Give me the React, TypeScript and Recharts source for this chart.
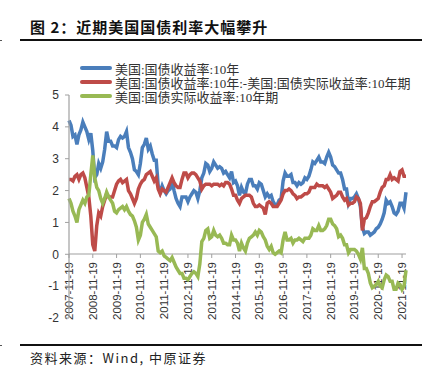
import React from 'react';
import { LineChart, Line, XAxis, YAxis, Legend } from 'recharts';

// monthly sample dates, 19th of each month, 2007-11 .. 2022-01
const dates: string[] = [];
for (let y = 2007; y <= 2022; y++) {
  for (let m = 1; m <= 12; m++) {
    if ((y === 2007 && m < 11) || (y === 2022 && m > 1)) continue;
    dates.push(`${y}-${String(m).padStart(2, '0')}-19`);
  }
}

const xTicks = [
  '2007-11-19', '2008-11-19', '2009-11-19', '2010-11-19', '2011-11-19',
  '2012-11-19', '2013-11-19', '2014-11-19', '2015-11-19', '2016-11-19',
  '2017-11-19', '2018-11-19', '2019-11-19', '2020-11-19', '2021-11-19',
];
const yTicks = [-2, -1, 0, 1, 2, 3, 4, 5];

const NAME_NOMINAL = '美国:国债收益率:10年';
const NAME_SPREAD = '美国:国债收益率:10年:-美国:国债实际收益率:10年期';
const NAME_REAL = '美国:国债实际收益率:10年期';
const legendOrder = [NAME_NOMINAL, NAME_SPREAD, NAME_REAL];

const nominal = [
  4.2, 4.05,
  3.7, 3.75, 3.45, 3.75, 3.9, 4.15, 4.0, 3.85, 3.6, 3.8, 3.25, 2.4,
  2.5, 2.85, 2.7, 2.9, 3.3, 3.85, 3.55, 3.55, 3.4, 3.4, 3.35, 3.6,
  3.7, 3.65, 3.7, 3.85, 3.35, 3.2, 3.0, 2.65, 2.6, 2.5, 2.85, 3.35,
  3.45, 3.65, 3.3, 3.4, 3.15, 2.95, 2.95, 2.15, 1.95, 2.15, 2.0, 1.9,
  2.0, 2.05, 2.3, 2.0, 1.75, 1.6, 1.5, 1.8, 1.8, 1.8, 1.65, 1.8,
  1.9, 2.0, 1.95, 1.75, 2.0, 2.4, 2.55, 2.85, 2.8, 2.6, 2.7, 2.9,
  2.8, 2.7, 2.75, 2.7, 2.55, 2.6, 2.5, 2.4, 2.6, 2.25, 2.3, 2.15,
  1.85, 2.1, 1.95, 1.9, 2.2, 2.35, 2.35, 2.15, 2.15, 2.05, 2.25, 2.2,
  2.0, 1.8, 1.9, 1.8, 1.85, 1.65, 1.55, 1.55, 1.7, 1.75, 2.3, 2.55,
  2.45, 2.45, 2.5, 2.25, 2.25, 2.15, 2.25, 2.2, 2.25, 2.4, 2.35, 2.45,
  2.65, 2.9, 2.85, 2.95, 3.05, 2.9, 2.9, 2.85, 3.05, 3.2, 3.05, 2.8,
  2.75, 2.65, 2.55, 2.55, 2.35, 2.05, 2.05, 1.6, 1.75, 1.75, 1.8, 1.9,
  1.75, 1.5, 0.85, 0.65, 0.7, 0.7, 0.6, 0.65, 0.7, 0.8, 0.85, 0.95,
  1.1, 1.3, 1.7, 1.6, 1.65, 1.5, 1.3, 1.25, 1.35, 1.6, 1.6, 1.45,
  1.95,
];

const spread = [
  2.35, 2.35,
  2.3, 2.45, 2.5, 2.35, 2.5, 2.55, 2.4, 2.1, 1.8, 1.2, 0.3, 0.1,
  0.9, 1.3, 1.2, 1.5, 1.7, 1.9, 1.8, 1.8, 1.8, 2.0, 2.2, 2.3,
  2.35, 2.25, 2.3, 2.35, 2.0, 1.9, 1.75, 1.6, 1.75, 2.05, 2.2, 2.3,
  2.35, 2.5, 2.55, 2.6, 2.45, 2.3, 2.4, 2.05, 1.9, 2.05, 2.0, 1.95,
  2.1, 2.25, 2.4, 2.25, 2.15, 2.1, 2.1, 2.35, 2.55, 2.55, 2.4, 2.5,
  2.55, 2.55, 2.5, 2.4, 2.3, 2.05, 2.15, 2.2, 2.2, 2.2, 2.15, 2.2,
  2.2, 2.2, 2.15, 2.2, 2.15, 2.25, 2.25, 2.2, 2.05, 1.85, 1.85, 1.7,
  1.6, 1.75, 1.8, 1.85, 1.85, 1.85, 1.8, 1.6, 1.5, 1.5, 1.55, 1.5,
  1.45, 1.25, 1.6, 1.65, 1.6, 1.5, 1.5, 1.5, 1.6, 1.7, 1.9, 2.0,
  2.0, 2.05, 2.0, 1.9, 1.85, 1.75, 1.8, 1.8, 1.85, 1.9, 1.9, 1.95,
  2.1, 2.1, 2.1, 2.2, 2.15, 2.15, 2.15, 2.1, 2.15, 2.05, 1.95, 1.75,
  1.8, 1.85, 1.95, 1.95, 1.8, 1.7, 1.75, 1.55, 1.6, 1.6, 1.65, 1.8,
  1.75, 1.6, 0.75, 1.1, 1.15, 1.3, 1.5, 1.65, 1.65, 1.7, 1.75, 1.95,
  2.1, 2.15, 2.35, 2.35, 2.5, 2.35, 2.4, 2.35, 2.3, 2.6, 2.65, 2.45,
  2.45,
];

const real = [
  1.75, 1.6,
  1.35, 1.2, 1.0, 1.4, 1.55, 1.7, 1.6, 1.8, 1.85, 2.5, 3.1, 2.4,
  2.1, 2.0, 1.75, 1.6, 1.75, 1.95, 1.8, 1.7, 1.6, 1.35, 1.3, 1.4,
  1.45, 1.5, 1.4, 1.5, 1.35, 1.25, 1.2, 1.05, 0.85, 0.45, 0.6, 1.0,
  1.1, 1.25, 0.95, 0.85, 0.75, 0.65, 0.55, 0.1, 0.05, 0.1, -0.05, -0.1,
  -0.15, -0.2, -0.1, -0.25, -0.4, -0.5, -0.6, -0.6, -0.75, -0.75, -0.8, -0.7,
  -0.6, -0.55, -0.6, -0.7, -0.3, 0.4, 0.5, 0.75, 0.8, 0.5, 0.55, 0.75,
  0.6, 0.55, 0.6, 0.5, 0.35, 0.35, 0.3, 0.3, 0.6, 0.45, 0.45, 0.35,
  0.1, 0.35, 0.2, 0.1, 0.35, 0.5, 0.55, 0.6, 0.7, 0.6, 0.75, 0.7,
  0.55, 0.45, 0.25, 0.15, 0.25, 0.05, 0.0, 0.05, 0.1, 0.05, 0.45, 0.7,
  0.45, 0.45, 0.5, 0.35, 0.45, 0.45, 0.5, 0.45, 0.4, 0.5, 0.5, 0.5,
  0.6, 0.8, 0.75, 0.75, 0.9, 0.75, 0.75, 0.8, 0.9, 1.1, 1.1, 0.95,
  0.9, 0.8, 0.55, 0.6, 0.5, 0.3, 0.3, 0.05, 0.15, 0.15, 0.15, 0.1,
  0.0, -0.15, 0.2, -0.45, -0.45, -0.6, -0.9, -1.05, -1.0, -0.95, -0.85, -1.0,
  -1.05, -0.8, -0.65, -0.7, -0.85, -0.85, -1.1, -1.1, -0.9, -0.95, -1.1, -1.0,
  -0.5,
];

const data = dates.map((date, i) => ({
  date,
  nominal: nominal[i],
  spread: spread[i],
  real: real[i],
}));

const BLUE = '#4a7ebb';
const RED = '#be4b48';
const GREEN = '#98b954';
const AXIS = '#a0a0a0';
const SANS = '"Liberation Sans", Arial, sans-serif';
const CJK = '"Noto Sans CJK SC", sans-serif';

const W = 435;
const H = 379;

const DateTick = (props: any) => {
  const { x, y, payload } = props;
  return (
    <text
      x={x}
      y={y}
      transform={`rotate(-90, ${x}, ${y})`}
      textAnchor="end"
      dy="0.35em"
      fontSize={11.5}
      fill="#333"
      fontFamily={SANS}
    >
      {payload.value}
    </text>
  );
};

const renderLegend = (props: any) => {
  const items = [...(props.payload || [])].sort(
    (a: any, b: any) => legendOrder.indexOf(a.value) - legendOrder.indexOf(b.value),
  );
  return (
    <div style={{ fontFamily: `"Liberation Serif", ${CJK}`, fontSize: 13, color: '#333' }}>
      {items.map((p: any) => (
        <div key={p.value} style={{ display: 'flex', alignItems: 'center', height: 14, whiteSpace: 'nowrap' }}>
          <span style={{ width: 32, height: 4, background: p.color, borderRadius: 2, marginRight: 3 }} />
          <span>{p.value}</span>
        </div>
      ))}
    </div>
  );
};

export default function App() {
  return (
    <div style={{ position: 'absolute', left: 0, top: 0, width: W, height: H, background: '#fff', overflow: 'hidden' }}>
      {/* header */}
      <div
        style={{
          position: 'absolute', left: 30, top: 17, fontFamily: CJK, fontWeight: 700,
          fontSize: 15, letterSpacing: 1, color: '#111', whiteSpace: 'nowrap', lineHeight: '20px',
        }}
      >
        图 2：近期美国国债利率大幅攀升
      </div>
      <div style={{ position: 'absolute', left: 20, top: 39, width: 402, height: 2, background: '#111' }} />
      <div style={{ position: 'absolute', left: 0, top: 40, width: 2, height: 1, background: '#555' }} />

      {/* x axis drawn at the zero line, underneath the series */}
      <div style={{ position: 'absolute', left: 0, top: 0 }}>
        <LineChart width={W} height={H} data={data} margin={{ top: 95, right: 29, bottom: 55, left: 69 }}>
          <XAxis
            dataKey="date"
            ticks={xTicks}
            interval={0}
            height={70}
            axisLine={{ stroke: AXIS, strokeWidth: 1.2 }}
            tickLine={{ stroke: AXIS }}
            tickSize={4}
            tickMargin={4}
            tick={<DateTick />}
          />
          <YAxis hide domain={[-2, 5]} />
          <Line dataKey="nominal" stroke="none" dot={false} activeDot={false} isAnimationActive={false} />
        </LineChart>
      </div>

      {/* series */}
      <div style={{ position: 'absolute', left: 0, top: 0 }}>
        <LineChart width={W} height={H} data={data} margin={{ top: 95, right: 29, bottom: 61, left: 39 }}>
          <XAxis dataKey="date" hide />
          <YAxis
            width={30}
            domain={[-2, 5]}
            ticks={yTicks}
            interval={0}
            axisLine={{ stroke: AXIS, strokeWidth: 1.2 }}
            tickLine={{ stroke: AXIS }}
            tickSize={4}
            tickMargin={6}
            tick={{ fontSize: 12, fill: '#333', fontFamily: SANS }}
          />
          <Legend
            layout="vertical"
            align="center"
            verticalAlign="middle"
            content={renderLegend}
            wrapperStyle={{ left: 80, top: 61, width: 'auto', height: 'auto' }}
          />
          <Line name={NAME_NOMINAL} dataKey="nominal" stroke={BLUE} strokeWidth={3.5} dot={false} isAnimationActive={false} />
          <Line name={NAME_SPREAD} dataKey="spread" stroke={RED} strokeWidth={3.5} dot={false} isAnimationActive={false} />
          <Line name={NAME_REAL} dataKey="real" stroke={GREEN} strokeWidth={3.5} dot={false} isAnimationActive={false} />
        </LineChart>
      </div>

      {/* footer */}
      <div style={{ position: 'absolute', left: 20, top: 344, width: 402, height: 2, background: '#111' }} />
      <div style={{ position: 'absolute', left: 0, top: 345, width: 2, height: 1, background: '#555' }} />
      <div
        style={{
          position: 'absolute', left: 30, top: 349, fontFamily: CJK, fontSize: 13,
          letterSpacing: 1.5, color: '#222', whiteSpace: 'nowrap', lineHeight: '18px',
        }}
      >
        资料来源：Wind, 中原证券
      </div>
    </div>
  );
}
